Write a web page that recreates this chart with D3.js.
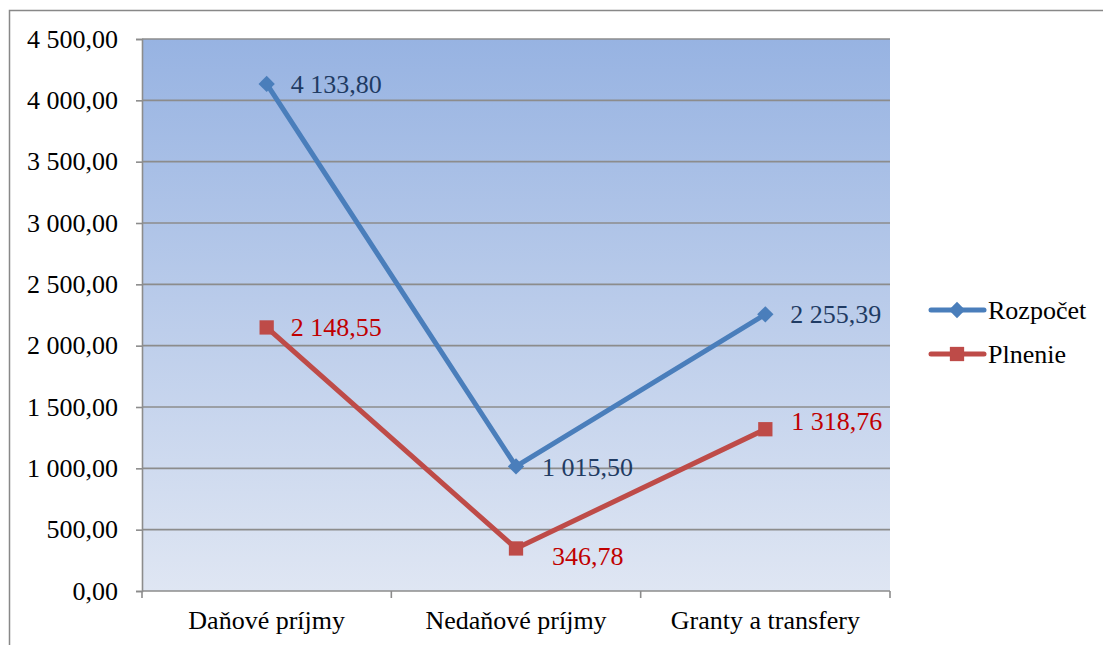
<!DOCTYPE html>
<html><head><meta charset="utf-8">
<script src="https://cdn.jsdelivr.net/npm/d3@7"></script>
<style>body{margin:0;background:#fff}svg{display:block}
text{font-family:"Liberation Serif","Times New Roman",Times,serif}</style>
</head><body>
<svg id="c" width="1103" height="645"></svg>
<script>
const categories = ["Daňové príjmy", "Nedaňové príjmy", "Granty a transfery"];
const rozpocet = [4133.80, 1015.50, 2255.39];
const plnenie = [2148.55, 346.78, 1318.76];
const yTicks = [0, 500, 1000, 1500, 2000, 2500, 3000, 3500, 4000, 4500];
const seriesNames = ["Rozpočet", "Plnenie"];

const fmt = v => {
  const s = v.toFixed(2).replace(".", ",");
  const [i, d] = s.split(",");
  return i.replace(/\B(?=(\d{3})+(?!\d))/g, " ") + "," + d;
};

const svg = d3.select("#c");
const L = 142, R = 890, T = 39, B = 591;
const FS = 26;

svg.append("rect").attr("x", 9.5).attr("y", 10.5).attr("width", 1110).attr("height", 660)
  .attr("fill", "#fff").attr("stroke", "#888").attr("stroke-width", 1.5);

const defs = svg.append("defs");
const g = defs.append("linearGradient").attr("id", "bg").attr("x1", 0).attr("y1", 0).attr("x2", 0).attr("y2", 1);
g.append("stop").attr("offset", "0%").attr("stop-color", "#97b3e2");
g.append("stop").attr("offset", "100%").attr("stop-color", "#dfe6f3");

const x = d3.scaleBand().domain(categories).range([L, R]);
const y = d3.scaleLinear().domain([0, 4500]).range([B, T]);

svg.append("rect").attr("x", L).attr("y", T).attr("width", R - L).attr("height", B - T).attr("fill", "url(#bg)");

svg.append("g").selectAll("line").data(yTicks.filter(d => d > 0)).join("line")
  .attr("x1", L).attr("x2", R).attr("y1", d => y(d)).attr("y2", d => y(d))
  .attr("stroke", "#8c8c8c").attr("stroke-width", 1.6);

const ya = svg.append("g").attr("transform", `translate(${L},0)`)
  .call(d3.axisLeft(y).tickValues(yTicks).tickFormat(fmt).tickSize(6).tickPadding(18));
ya.attr("font-family", null);
ya.select(".domain").attr("stroke", "#8c8c8c").attr("stroke-width", 1.6);
ya.selectAll(".tick line").attr("stroke", "#8c8c8c").attr("stroke-width", 1.6);
ya.selectAll("text").attr("font-size", FS).attr("fill", "#000");

const xa = svg.append("g").attr("transform", `translate(0,${B})`)
  .call(d3.axisBottom(x).tickSize(0).tickPadding(20));
xa.attr("font-family", null);
xa.select(".domain").remove();
xa.selectAll("text").attr("font-size", FS).attr("fill", "#000");
svg.append("line").attr("x1", L).attr("x2", R).attr("y1", B).attr("y2", B).attr("stroke", "#8c8c8c").attr("stroke-width", 1.6);
const bounds = categories.map(c => x(c)).concat([R]);
svg.append("g").selectAll("line").data(bounds).join("line")
  .attr("x1", d => d).attr("x2", d => d).attr("y1", B).attr("y2", B + 7)
  .attr("stroke", "#8c8c8c").attr("stroke-width", 1.6);

const cx = c => x(c) + x.bandwidth() / 2;
const line = d3.line().x(d => cx(d.c)).y(d => y(d.v));

const series = [
  {name: seriesNames[0], vals: rozpocet, color: "#4a7ebb", label: "#1f3b63", sym: d3.symbolDiamond2, size: 170, dx: [24, 26, 25], dy: [0, 1, 0]},
  {name: seriesNames[1], vals: plnenie, color: "#be4b48", label: "#c00000", sym: d3.symbolSquare2, size: 260, dx: [24, 36, 26], dy: [0, 8, -8]}
];

series.forEach(s => {
  const pts = categories.map((c, i) => ({c, v: s.vals[i]}));
  svg.append("path").datum(pts).attr("d", line).attr("fill", "none")
    .attr("stroke", s.color).attr("stroke-width", 5).attr("stroke-linejoin", "round").attr("stroke-linecap", "round");
  svg.append("g").selectAll("path").data(pts).join("path")
    .attr("d", d3.symbol(s.sym, s.size)).attr("transform", d => `translate(${cx(d.c)},${y(d.v)})`)
    .attr("fill", s.color);
  svg.append("g").selectAll("text").data(pts).join("text")
    .attr("x", (d, i) => cx(d.c) + s.dx[i]).attr("y", (d, i) => y(d.v) + s.dy[i]).attr("dy", "0.34em")
    .attr("font-size", FS).attr("fill", s.label).text(d => fmt(d.v));
});

// legend
series.forEach((s, i) => {
  const ly = 310 + i * 44;
  svg.append("line").attr("x1", 931).attr("x2", 984).attr("y1", ly).attr("y2", ly)
    .attr("stroke", s.color).attr("stroke-width", 5).attr("stroke-linecap", "round");
  svg.append("path").attr("d", d3.symbol(s.sym, s.size)).attr("transform", `translate(957,${ly})`).attr("fill", s.color);
  svg.append("text").attr("x", 988).attr("y", ly).attr("dy", "0.33em")
    .attr("font-size", FS).attr("fill", "#000").text(s.name);
});
</script>
</body></html>
